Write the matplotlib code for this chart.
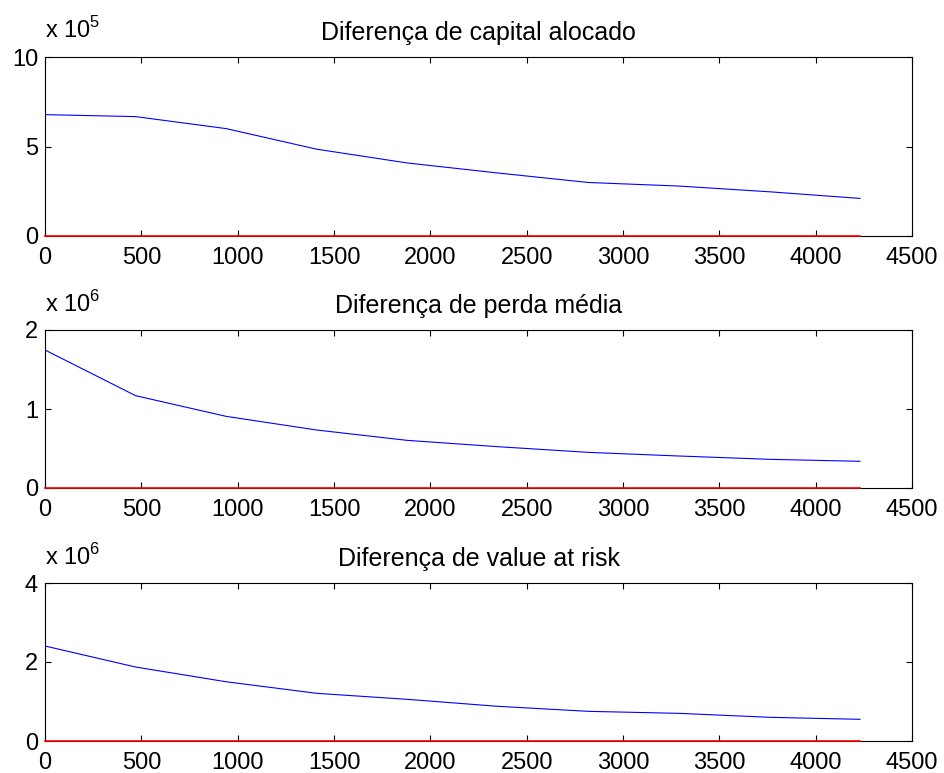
import matplotlib
matplotlib.use('Agg')
import matplotlib.pyplot as plt
from matplotlib.ticker import FuncFormatter

plt.rcParams['font.family'] = ['Liberation Sans', 'DejaVu Sans']
plt.rcParams['mathtext.fontset'] = 'custom'
plt.rcParams['mathtext.rm'] = 'Liberation Sans'
plt.rcParams['font.size'] = 17

# dados
x = [0, 470, 940, 1410, 1880, 2350, 2820, 3290, 3760, 4230]
capital = [6.78e5, 6.67e5, 6.0e5, 4.85e5, 4.08e5, 3.52e5, 2.99e5, 2.79e5, 2.47e5, 2.1e5]
perda = [1.747e6, 1.169e6, 0.907e6, 0.734e6, 0.603e6, 0.523e6, 0.451e6, 0.405e6, 0.363e6, 0.338e6]
var = [2.405e6, 1.873e6, 1.50e6, 1.207e6, 1.055e6, 0.878e6, 0.751e6, 0.70e6, 0.60e6, 0.549e6]
zero = [0] * len(x)

titulos = ['Diferença de capital alocado', 'Diferença de perda média', 'Diferença de value at risk']
series = [capital, perda, var]
expoentes = [5, 6, 6]
ylims = [10, 2, 4]
yticks = [[0, 5, 10], [0, 1, 2], [0, 2, 4]]
xticks = [0, 500, 1000, 1500, 2000, 2500, 3000, 3500, 4000, 4500]

W, H = 944, 773
caixas = [(57, 236), (330, 488), (583, 741)]  # topo, base em pixels

fig = plt.figure(figsize=(W / 100, H / 100), dpi=100)

for i in range(3):
    topo, base = caixas[i]
    ax = fig.add_axes([45 / W, 1 - base / H, 867 / W, (base - topo) / H])
    esc = 10 ** expoentes[i]
    ax.plot(x, series[i], color='blue', lw=0.8)
    ax.plot(x, zero, color='red', lw=1.2, clip_on=False, zorder=5)
    ax.set_xlim(0, 4500)
    ax.set_ylim(0, ylims[i] * esc)
    ax.set_xticks(xticks)
    ax.set_yticks([t * esc for t in yticks[i]])
    ax.yaxis.set_major_formatter(FuncFormatter(lambda v, p, e=esc: '%g' % (v / e)))
    ax.tick_params(direction='in', length=4.5, width=0.8, top=True, right=True,
                   labelsize=17)
    ax.tick_params(axis='x', pad=8)
    ax.tick_params(axis='y', pad=5)
    for s in ax.spines.values():
        s.set_linewidth(0.8)
    ax.set_title(titulos[i], fontsize=18, pad=12)
    ax.text(0, 1.08, r'x 10$^{%d}$' % expoentes[i], transform=ax.transAxes,
            fontsize=17, ha='left', va='bottom')

fig.savefig('out.png', dpi=100)
